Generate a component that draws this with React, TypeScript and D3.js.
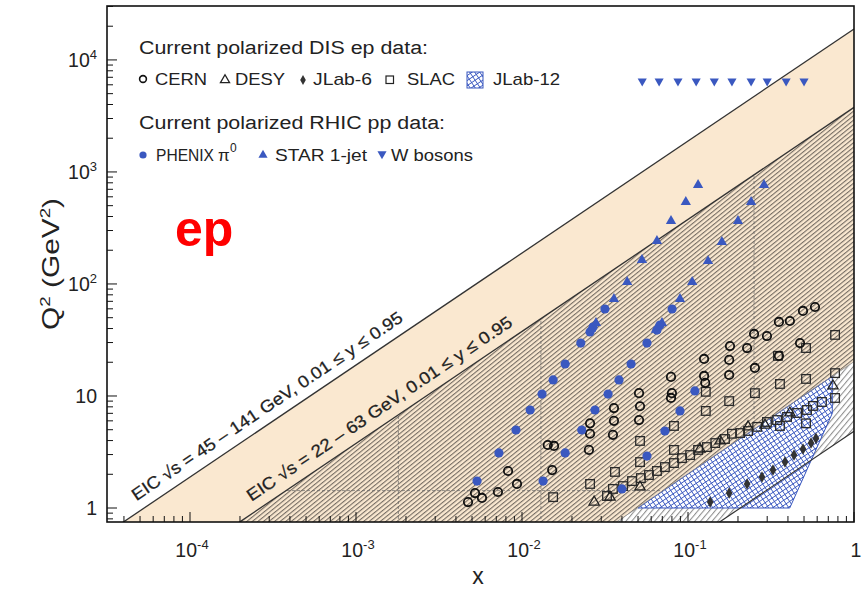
import React from 'react';
import * as d3 from 'd3';

// ---------- data ----------
const X_DOMAIN: [number, number] = [3.162e-5, 1];
const Y_DOMAIN: [number, number] = [0.75, 30300];

const SQRT_S_HIGH = [45, 141];
const SQRT_S_LOW = [22, 63];
const Y_RANGE = [0.01, 0.95];

const X_TICKS = [1e-4, 1e-3, 1e-2, 1e-1, 1];
const Y_TICKS = [1, 10, 100, 1000, 10000];

const DASHED_X = [1.8e-3, 1.3e-2, 0.25];
const DASHED_Q2 = [1.43];

const JLAB12_REGION: [number, number][] = [
  [0.05, 1.0], [0.41, 1.0], [0.74, 7.0], [0.74, 15.0],
];

const CERN: [number, number][] = [
  [0.582, 62.3], [0.493, 57.4], [0.411, 46.7], [0.353, 45.8], [0.299, 34.3], [0.25, 35.8],
  [0.227, 26.8], [0.179, 27.9], [0.177, 21.0], [0.125, 21.4], [0.177, 15.4], [0.253, 17.8],
  [0.473, 29.7], [0.353, 22.8], [0.125, 15.1], [0.127, 13.1], [0.079, 14.8], [0.08, 10.6],
  [0.079, 9.6], [0.0507, 10.6], [0.0514, 8.1], [0.0507, 6.1], [0.0358, 7.8], [0.0358, 6.0],
  [0.0353, 4.5], [0.0257, 5.7], [0.0257, 4.6], [0.0253, 3.3], [0.0143, 3.65], [0.0156, 3.58],
  [0.0152, 2.18], [0.00824, 2.14], [0.00933, 1.64], [0.00716, 1.39], [0.00521, 1.36],
  [0.00574, 1.23], [0.00473, 1.13],
];

const SLAC: [number, number][] = [
  [0.769, 35.1], [0.514, 26.8], [0.348, 22.8], [0.514, 14.2], [0.358, 12.8], [0.253, 10.6],
  [0.177, 9.0], [0.128, 10.9], [0.128, 7.35], [0.0823, 5.4], [0.0823, 3.3], [0.0514, 3.97],
  [0.0514, 2.57], [0.0363, 2.1], [0.0257, 1.64], [0.0154, 1.25], [0.769, 16.0], [0.769, 9.6],
  [0.514, 5.7], [0.358, 5.4],
  [0.0325, 1.28], [0.0353, 1.48], [0.0406, 1.57], [0.046, 1.74], [0.052, 1.85], [0.0582, 1.97],
  [0.065, 2.14], [0.0726, 2.32], [0.0823, 2.52], [0.092, 2.79], [0.103, 2.97], [0.115, 3.3],
  [0.13, 3.5], [0.146, 3.8], [0.167, 4.13], [0.184, 4.6], [0.206, 4.67], [0.23, 4.87],
  [0.261, 5.3], [0.299, 5.86], [0.344, 6.1], [0.395, 6.5], [0.454, 7.05], [0.521, 7.5],
  [0.566, 8.15], [0.641, 8.84],
];

const DESY: [number, number][] = [
  [0.0272, 1.13], [0.0339, 1.25], [0.0514, 1.54], [0.118, 3.36], [0.156, 3.97],
  [0.23, 5.3], [0.291, 5.5], [0.411, 7.05], [0.747, 12.3],
];

const JLAB6: [number, number][] = [
  [0.136, 1.13], [0.177, 1.36], [0.227, 1.64], [0.279, 1.89], [0.325, 2.18],
  [0.384, 2.57], [0.435, 2.97], [0.493, 3.36], [0.551, 3.8], [0.59, 4.2],
];

const PHENIX: [number, number][] = [
  // 500 GeV
  [0.0316, 59.8], [0.0268, 41.3], [0.0257, 37.3], [0.0226, 29.7], [0.0182, 19.3], [0.0154, 13.9],
  [0.0132, 10.4], [0.0112, 7.5], [0.0092, 4.97], [0.00726, 3.1], [0.00536, 1.74],
  // 200 GeV
  [0.0802, 59.8], [0.0678, 43], [0.065, 38.8], [0.0566, 29.7], [0.0454, 19.3], [0.0384, 13.9],
  [0.033, 10.4], [0.0275, 7.5], [0.0229, 4.97], [0.0182, 3.1], [0.0134, 1.74],
  // 62 GeV
  [0.11, 11.1], [0.0895, 7.35], [0.0726, 4.87], [0.0566, 2.91], [0.04, 1.48],
];

const STAR: [number, number][] = [
  [0.115, 765], [0.097, 540], [0.079, 365], [0.065, 242], [0.0528, 164], [0.043, 104],
  [0.0358, 73.5], [0.0279, 44.9], [0.026, 39.6],
  [0.287, 765], [0.24, 540], [0.2, 365], [0.16, 237], [0.132, 160], [0.106, 104],
  [0.0895, 73.5], [0.0697, 44.9], [0.064, 39],
];

const W_BOSONS: [number, number][] = [
  [0.053, 6464], [0.067, 6464], [0.087, 6464], [0.112, 6464], [0.144, 6464],
  [0.184, 6464], [0.24, 6464], [0.3, 6464], [0.39, 6464], [0.5, 6464],
];

const LABEL_HIGH = 'EIC √s = 45 – 141 GeV, 0.01 ≤ y ≤ 0.95';
const LABEL_LOW = 'EIC √s = 22 – 63 GeV, 0.01 ≤ y ≤ 0.95';

// ---------- styles ----------
const FONT = '"Liberation Sans", Arial, Helvetica, sans-serif';
const BLUE = '#3a58c0';
const ORANGE = '#fae8d0';

const PL = 107, PR = 854, PT = 6, PB = 522;

export default function App() {
  const xS = d3.scaleLog().domain(X_DOMAIN).range([PL, PR]);
  const yS = d3.scaleLog().domain(Y_DOMAIN).range([PB, PT]);

  const cHighTop = Y_RANGE[1] * SQRT_S_HIGH[1] ** 2;
  const cHighBot = Y_RANGE[0] * SQRT_S_HIGH[0] ** 2;
  const cLowTop = Y_RANGE[1] * SQRT_S_LOW[1] ** 2;
  const cLowBot = Y_RANGE[0] * SQRT_S_LOW[0] ** 2;

  const x0 = X_DOMAIN[0] / 2;
  const x1 = X_DOMAIN[1];
  const line = d3.line<[number, number]>().x(d => xS(d[0])).y(d => yS(d[1]));
  const band = (cLo: number, cHi: number) =>
    line([[x0, cHi * x0], [x1, cHi * x1], [x1, cLo * x1], [x0, cLo * x0]]) + 'Z';
  const edge = (c: number) => line([[x0, c * x0], [x1, c * x1]]) as string;

  const angle = (Math.atan2(yS(10) - yS(1), xS(10 * X_DOMAIN[0]) - xS(X_DOMAIN[0])) * 180) / Math.PI;

  const labelAt = (c: number, xd: number, text: string, len: number) => {
    const px = xS(xd), py = yS(c * xd);
    return (
      <text transform={`translate(${px},${py}) rotate(${angle})`} x={0} y={-10}
        fontFamily={FONT} fontSize={17} fill="#222" stroke="#222" strokeWidth={0.25}
        textLength={len} lengthAdjust="spacingAndGlyphs">
        {text}
      </text>
    );
  };

  const xMinor = xS.ticks().filter(v => v >= X_DOMAIN[0] && v <= X_DOMAIN[1]);
  const yMinor = yS.ticks().filter(v => v >= Y_DOMAIN[0] && v <= Y_DOMAIN[1]);
  const isMajor = (v: number) => Math.abs(Math.log10(v) - Math.round(Math.log10(v))) < 1e-6;

  const tri = d3.symbol(d3.symbolTriangle, 46)() as string;
  const triSmall = d3.symbol(d3.symbolTriangle, 36)() as string;
  const dia = d3.symbol(d3.symbolDiamond, 38)() as string;
  const diaSmall = d3.symbol(d3.symbolDiamond, 28)() as string;

  const powLabel = (v: number, key: string, x: number, y: number, anchor: string) => {
    const e = Math.round(Math.log10(v));
    return (
      <text key={key} x={x} y={y} textAnchor={anchor} fontFamily={FONT} fontSize={19.5} fill="#222">
        {e === 0 ? '1' : '10'}
        {e !== 0 && e !== 1 && <tspan dy={-8} fontSize={13}>{String(e)}</tspan>}
      </text>
    );
  };

  return (
    <svg width={862} height={589} style={{ position: 'absolute', left: 0, top: 0, background: '#fff' }}>
      <defs>
        <clipPath id="plot">
          <rect x={PL} y={PT} width={PR - PL} height={PB - PT} />
        </clipPath>
        <clipPath id="hatchClip">
          <path d={band(cLowBot, cLowTop)} />
        </clipPath>
        <pattern id="hatchA" patternUnits="userSpaceOnUse" width={10} height={3.5} patternTransform="rotate(-39)">
          <line x1={0} y1={0.6} x2={10} y2={0.6} stroke="#5e5750" strokeWidth={0.95} />
        </pattern>
        <pattern id="hatchB" patternUnits="userSpaceOnUse" width={10} height={4.4} patternTransform="rotate(-50)">
          <line x1={0} y1={0.6} x2={10} y2={0.6} stroke="#555" strokeWidth={0.75} />
        </pattern>
        <pattern id="cross" patternUnits="userSpaceOnUse" width={4.2} height={4.2} patternTransform="rotate(-34)">
          <rect width={4.2} height={4.2} fill="#fff" />
          <line x1={0} y1={0.4} x2={4.2} y2={0.4} stroke={BLUE} strokeWidth={0.85} />
          <line x1={0.4} y1={0} x2={0.4} y2={4.2} stroke={BLUE} strokeWidth={0.85} />
        </pattern>
      </defs>

      <g clipPath="url(#plot)">
        <path d={band(cHighBot, cHighTop)} fill={ORANGE} />
        <path d={band(cHighBot, cLowTop)} fill="url(#hatchA)" />
        <path d={band(cLowBot, cHighBot)} fill="url(#hatchB)" />
        <g clipPath="url(#hatchClip)">
          {DASHED_X.map((v, i) => (
            <line key={'dx' + i} x1={xS(v)} x2={xS(v)} y1={PT} y2={PB} stroke="#666" strokeWidth={0.7} strokeDasharray="3,2" />
          ))}
          {DASHED_Q2.map((v, i) => (
            <line key={'dy' + i} x1={PL} x2={PR} y1={yS(v)} y2={yS(v)} stroke="#666" strokeWidth={0.7} strokeDasharray="3,2" />
          ))}
        </g>
        <path d={(line(JLAB12_REGION) as string) + 'Z'} fill="url(#cross)" stroke={BLUE} strokeWidth={1} />
        <path d={edge(cHighTop)} stroke="#333" strokeWidth={1.3} fill="none" />
        <path d={edge(cLowTop)} stroke="#333" strokeWidth={1.3} fill="none" />
        <path d={edge(cHighBot)} stroke="#8a8a8a" strokeWidth={0.8} fill="none" />
        <path d={edge(cLowBot)} stroke="#333" strokeWidth={1.2} fill="none" />

        {SLAC.map((d, i) => (
          <rect key={'s' + i} x={xS(d[0]) - 4.3} y={yS(d[1]) - 4.3} width={8.6} height={8.6}
            fill="none" stroke="#2a2a2a" strokeWidth={1.3} />
        ))}
        {DESY.map((d, i) => (
          <path key={'d' + i} d={tri} transform={`translate(${xS(d[0])},${yS(d[1])})`}
            fill="none" stroke="#222" strokeWidth={1.3} />
        ))}
        {JLAB6.map((d, i) => (
          <path key={'j' + i} d={dia} transform={`translate(${xS(d[0])},${yS(d[1])})`} fill="#333" />
        ))}
        {CERN.map((d, i) => (
          <circle key={'c' + i} cx={xS(d[0])} cy={yS(d[1])} r={4.2} fill="none" stroke="#111" strokeWidth={1.8} />
        ))}
        {PHENIX.map((d, i) => (
          <circle key={'p' + i} cx={xS(d[0])} cy={yS(d[1])} r={4.6} fill={BLUE} />
        ))}
        {STAR.map((d, i) => (
          <path key={'t' + i} d={tri} transform={`translate(${xS(d[0])},${yS(d[1])})`} fill={BLUE} />
        ))}
        {W_BOSONS.map((d, i) => (
          <path key={'w' + i} d={triSmall} transform={`translate(${xS(d[0])},${yS(d[1])}) rotate(180)`} fill={BLUE} />
        ))}
      </g>

      {labelAt(cHighTop, 5.14e-5, LABEL_HIGH, 323)}
      {labelAt(cLowTop, 2.54e-4, LABEL_LOW, 316)}

      {/* ticks */}
      {xMinor.map((v, i) => {
        const L = isMajor(v) ? 10 : 6;
        return <line key={'xt' + i} x1={xS(v)} x2={xS(v)} y1={PB} y2={PB - L} stroke="#111" strokeWidth={1} />;
      })}
      {yMinor.map((v, i) => {
        const L = isMajor(v) ? 10 : 6;
        return <line key={'yt' + i} x1={PL} x2={PL + L} y1={yS(v)} y2={yS(v)} stroke="#111" strokeWidth={1} />;
      })}
      <rect x={PL} y={PT} width={PR - PL} height={PB - PT} fill="none" stroke="#111" strokeWidth={1.6} />

      {X_TICKS.map((v, i) => powLabel(v, 'xl' + i, xS(v) + 2, 557, 'middle'))}
      {Y_TICKS.map((v, i) => powLabel(v, 'yl' + i, 97, yS(v) + 7, 'end'))}

      <text x={478} y={584} textAnchor="middle" fontFamily={FONT} fontSize={23} fill="#222">x</text>
      <text transform="translate(59,264) rotate(-90)" textAnchor="middle" fontFamily={FONT} fontSize={24} fill="#222"
        textLength={132} lengthAdjust="spacingAndGlyphs">
        Q<tspan dy={-9} fontSize={15}>2</tspan><tspan dy={9}>{'  (GeV'}</tspan><tspan dy={-9} fontSize={15}>2</tspan><tspan dy={9}>)</tspan>
      </text>

      <text x={175} y={246} fontFamily={FONT} fontSize={50} fontWeight="bold" fill="#ff0000">ep</text>

      {/* legend */}
      <g fontFamily={FONT} fill="#222">
        <text x={139} y={54} fontSize={18} textLength={289} lengthAdjust="spacingAndGlyphs">Current polarized DIS ep data:</text>
        <circle cx={143} cy={79} r={3.4} fill="none" stroke="#111" strokeWidth={1.6} />
        <text x={155} y={85} fontSize={17} textLength={52} lengthAdjust="spacingAndGlyphs">CERN</text>
        <path d={triSmall} transform="translate(225,80)" fill="none" stroke="#222" strokeWidth={1.3} />
        <text x={235} y={85} fontSize={17} textLength={50} lengthAdjust="spacingAndGlyphs">DESY</text>
        <path d={diaSmall} transform="translate(303,80)" fill="#333" />
        <text x={313} y={85} fontSize={17} textLength={59} lengthAdjust="spacingAndGlyphs">JLab-6</text>
        <rect x={386} y={76} width={7.5} height={7.5} fill="none" stroke="#222" strokeWidth={1.2} />
        <text x={407} y={85} fontSize={17} textLength={48} lengthAdjust="spacingAndGlyphs">SLAC</text>
        <rect x={467} y={72} width={16} height={16} fill="url(#cross)" stroke={BLUE} strokeWidth={1} />
        <text x={493} y={85} fontSize={17} textLength={67} lengthAdjust="spacingAndGlyphs">JLab-12</text>

        <text x={139} y={129} fontSize={18} textLength={306} lengthAdjust="spacingAndGlyphs">Current polarized RHIC pp data:</text>
        <circle cx={143} cy={155} r={3.6} fill={BLUE} />
        <text x={156} y={161} fontSize={17} textLength={58} lengthAdjust="spacingAndGlyphs">PHENIX</text>
        <text x={218} y={161} fontSize={17}>π</text>
        <text x={230} y={152} fontSize={12}>0</text>
        <path d={triSmall} transform="translate(263,155)" fill={BLUE} />
        <text x={275} y={161} fontSize={17} textLength={92} lengthAdjust="spacingAndGlyphs">STAR 1-jet</text>
        <path d={triSmall} transform="translate(382,154) rotate(180)" fill={BLUE} />
        <text x={391} y={161} fontSize={17} textLength={82} lengthAdjust="spacingAndGlyphs">W bosons</text>
      </g>
    </svg>
  );
}
